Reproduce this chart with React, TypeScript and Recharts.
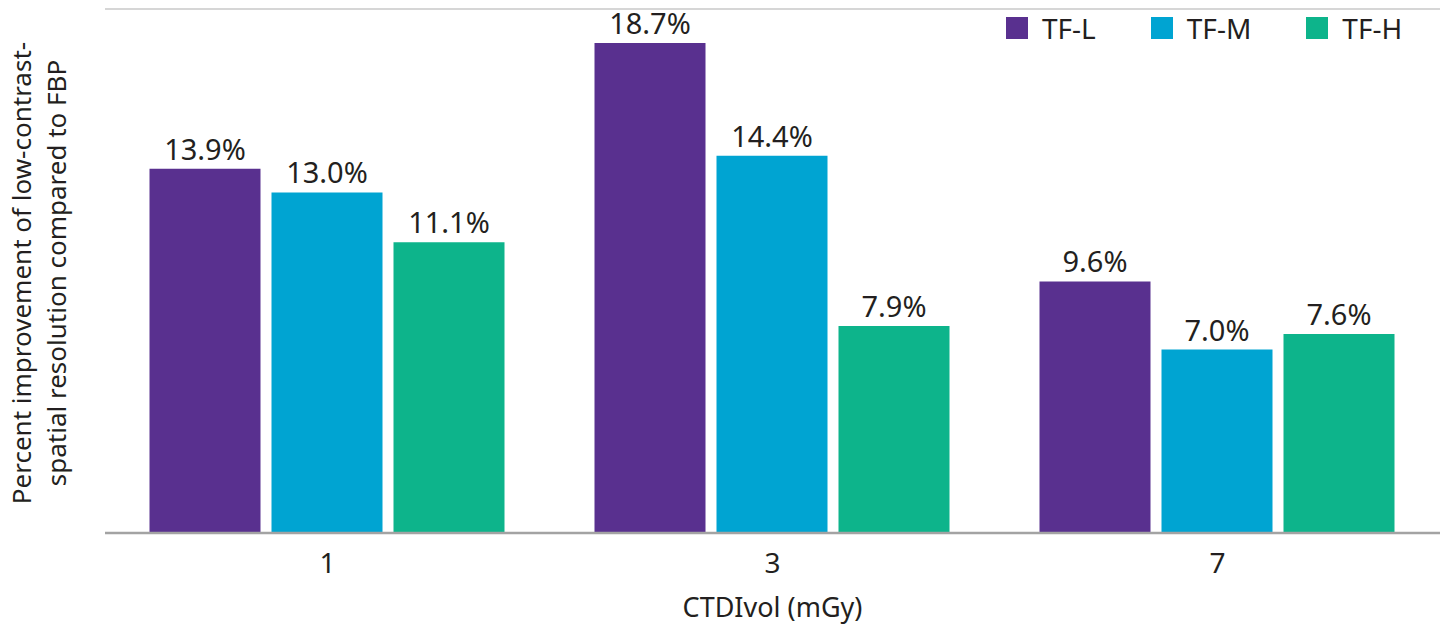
import { BarChart, Bar, XAxis, YAxis, CartesianGrid, LabelList } from "recharts"

const doses = ["1", "3", "7"]
const tfL = [13.9, 18.7, 9.6]
const tfM = [13.0, 14.4, 7.0]
const tfH = [11.1, 7.9, 7.6]

const seriesNames = ["TF-L", "TF-M", "TF-H"]
const seriesColors = ["#59308f", "#00a4d2", "#0db48b"]

const data = doses.map((d, i) => ({ dose: d, "TF-L": tfL[i], "TF-M": tfM[i], "TF-H": tfH[i] }))

const FONT = "'Noto Sans', sans-serif"
const TEXT = "#231f20"

const YLabel = (props: any) => {
  const vb = props.viewBox
  const cx = 39
  const cy = vb.y + vb.height / 2 + 2
  return (
    <text transform={`rotate(-90, ${cx}, ${cy})`} x={cx} y={cy} textAnchor="middle" fontSize={26} fill={TEXT} fontFamily={FONT}>
      <tspan x={cx} dy={-8}>Percent improvement of low-contrast-</tspan>
      <tspan x={cx} dy={35}>spatial resolution compared to FBP</tspan>
    </text>
  )
}

const LegendBox = () => (
  <div style={{ position: "absolute", top: 9, left: 1006, width: 440, whiteSpace: "nowrap", display: "flex", alignItems: "center", fontFamily: FONT, fontSize: 28, color: TEXT }}>
    {seriesNames.map((n, i) => (
      <div key={n} style={{ display: "flex", alignItems: "center", flexShrink: 0, marginRight: 55 }}>
        <span style={{ width: 22, height: 22, background: seriesColors[i], display: "inline-block", marginRight: 14 }} />
        <span>{n}</span>
      </div>
    ))}
  </div>
)

const fmt = (v: any) => `${Number(v).toFixed(1)}%`

export default function App() {
  return (
    <div style={{ position: "absolute", left: 0, top: 0, width: 1448, height: 627, background: "#fff" }}>
      <BarChart
        width={1448}
        height={627}
        data={data}
        margin={{ top: 9, right: 8, bottom: 0, left: 0 }}
        barCategoryGap="10%"
        barGap={11}
      >
        <CartesianGrid vertical={false} stroke="#c8c8c8" strokeWidth={1.5} />
        <XAxis
          dataKey="dose"
          height={94}
          axisLine={{ stroke: "#a3a3a3", strokeWidth: 2.5 }}
          tickLine={false}
          tick={{ fontSize: 28, fill: TEXT, fontFamily: FONT }}
          tickMargin={14}
          label={{ value: "CTDIvol (mGy)", position: "insideBottom", offset: 10, fontSize: 27, fill: TEXT, fontFamily: FONT }}
        />
        <YAxis
          domain={[0, 20]}
          ticks={[0, 5, 10, 15, 20]}
          width={105}
          tick={false}
          axisLine={false}
          tickLine={false}
          label={<YLabel />}
        />
        {seriesNames.map((n, i) => (
          <Bar key={n} dataKey={n} fill={seriesColors[i]} isAnimationActive={false}>
            <LabelList
              dataKey={n}
              position="top"
              offset={9}
              formatter={fmt}
              style={{ fontSize: 29, fill: TEXT, fontFamily: FONT }}
            />
          </Bar>
        ))}
      </BarChart>
      <LegendBox />
    </div>
  )
}
